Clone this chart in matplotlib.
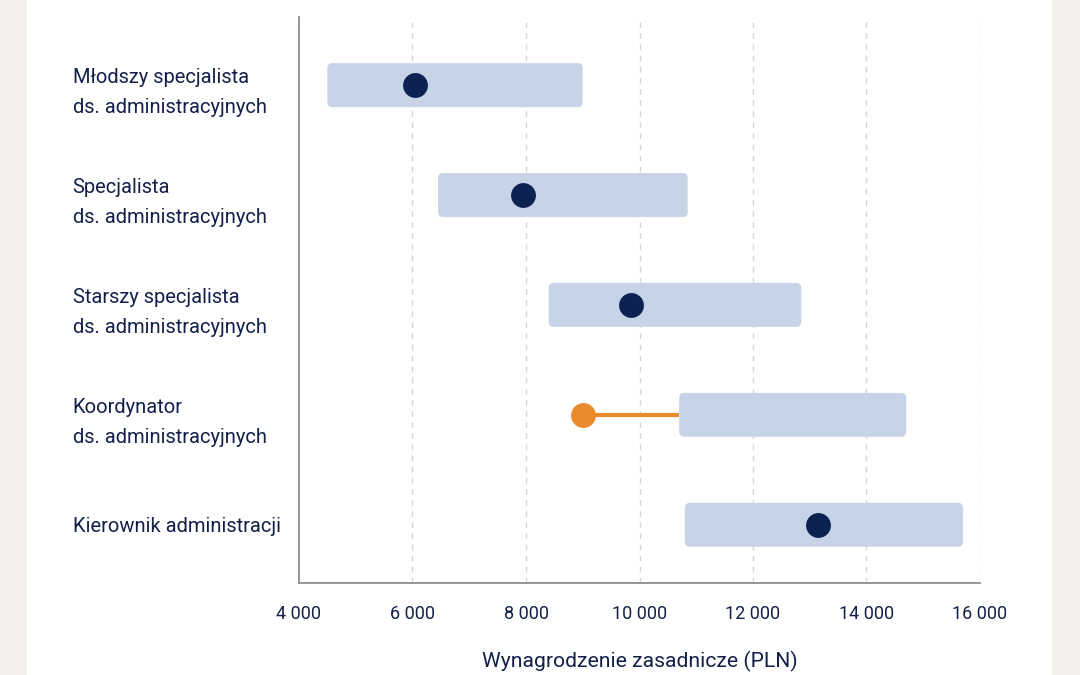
import matplotlib
matplotlib.use("Agg")
import matplotlib.pyplot as plt
from matplotlib.patches import FancyBboxPatch, Rectangle

# salary bands (PLN) and actual pay for each position
positions = [
    "Młodszy specjalista\nds. administracyjnych",
    "Specjalista\nds. administracyjnych",
    "Starszy specjalista\nds. administracyjnych",
    "Koordynator\nds. administracyjnych",
    "Kierownik administracji",
]
band_min = [4500, 6450, 8400, 10700, 10800]
band_max = [9000, 10850, 12850, 14700, 15700]
salary = [6050, 7950, 9850, 9000, 13150]
below_band = [False, False, False, True, False]

ticks = [4000, 6000, 8000, 10000, 12000, 14000, 16000]
tick_labels = ["4 000", "6 000", "8 000", "10 000", "12 000", "14 000", "16 000"]

NAVY = "#14204a"
DOT = "#0c2352"
ORANGE = "#e98a2c"
BAND = "#c7d4e7"
FONT = ["Roboto", "DejaVu Sans"]

plt.rcParams["font.family"] = FONT

fig = plt.figure(figsize=(10.8, 6.75), dpi=100)
fig.patch.set_facecolor("#f3efea")
# white card behind the chart
fig.patches.append(Rectangle((27 / 1080, 0), (1052 - 27) / 1080, 1,
                             transform=fig.transFigure, facecolor="white",
                             edgecolor="none", zorder=-5))

ax = fig.add_axes([299 / 1080, 1 - 583 / 675, (980 - 299) / 1080, (583 - 17) / 675])
ax.set_facecolor("none")

bar_h = 0.4
for i in range(len(positions)):
    ax.add_patch(FancyBboxPatch((band_min[i], i - bar_h / 2), band_max[i] - band_min[i], bar_h,
                                boxstyle="round,pad=0,rounding_size=90",
                                mutation_aspect=0.0005,
                                facecolor=BAND, edgecolor="none", zorder=2))
    if below_band[i]:
        ax.plot([salary[i], band_min[i]], [i, i], color=ORANGE, lw=3, zorder=3,
                solid_capstyle="butt")
        ax.scatter(salary[i], i, s=320, color=ORANGE, zorder=4, linewidths=0)
    else:
        ax.scatter(salary[i], i, s=320, color=DOT, zorder=4, linewidths=0)

ax.set_xlim(4000, 16000)
ax.set_ylim(4.53, -0.62)

ax.set_xticks(ticks)
ax.set_xticklabels(tick_labels, fontsize=13, color=NAVY)
ax.tick_params(axis="x", length=0, pad=16)
for x in ticks[1:]:
    ax.axvline(x, color="#d6d6d6", lw=1, ls=(0, (4, 4)), zorder=1)

ax.set_yticks(range(len(positions)))
ax.set_yticklabels(positions, fontsize=14.5, color=NAVY, ha="left", linespacing=1.72)
ax.tick_params(axis="y", length=0, pad=163)

for s in ["top", "right"]:
    ax.spines[s].set_visible(False)
for s in ["left", "bottom"]:
    ax.spines[s].set_color("#8f8f8f")
    ax.spines[s].set_linewidth(1.3)

ax.set_xlabel("Wynagrodzenie zasadnicze (PLN)", fontsize=15.2, color=NAVY, labelpad=20)

fig.savefig("out.png", dpi=100, facecolor=fig.get_facecolor())
